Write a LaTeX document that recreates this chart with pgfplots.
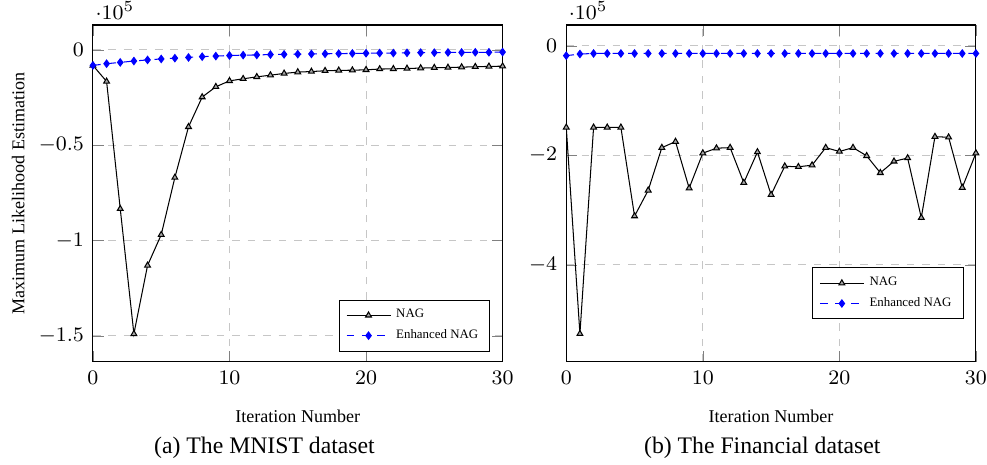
\documentclass[border=0pt]{standalone}
\usepackage{pgfplots}
\pgfplotsset{compat=1.18}
\usepackage{fontspec}
\setmainfont{Liberation Serif}

\pgfplotsset{
  nagplot/.style={
    scale only axis, width=158.9pt, height=130.6pt,
    xmin=0, xmax=30, xtick={0,10,20,30},
    grid=major, grid style={dashed, gray!45},
    tick label style={font=\footnotesize},
    label style={font=\scriptsize},
    xlabel={Iteration Number},
    x label style={at={(axis description cs:0.5,0)}, anchor=center, yshift=-21.2pt},
    every y tick scale label/.style={at={(rel axis cs:0,1)}, anchor=base west, inner sep=0pt, xshift=0.8pt, yshift=2.3pt},
    legend style={font=\tiny, draw=black, fill=white, inner xsep=2.5pt, inner ysep=1.5pt, row sep=-1pt},
    legend cell align=left,
  },
  nag/.style={black, mark=triangle*, mark size=1.3pt, mark options={fill=gray!70, solid}},
  enag/.style={blue, dashed, mark=diamond*, mark size=1.4pt, mark options={solid, fill=blue}},
}

\begin{document}
\begin{tikzpicture}
% (a) MNIST
\begin{axis}[nagplot, name=a,
  ymin=-163600, ymax=13000, ytick={-150000,-100000,-50000,0},
  ylabel={Maximum Likelihood Estimation},
  y label style={at={(axis description cs:-0.1825,0.5)}, anchor=center, rotate=0},
  legend pos=south east]
\addplot[nag] coordinates {
(0,-8200) (1,-16600) (2,-83400) (3,-149000) (4,-113100) (5,-97000)
(6,-67000) (7,-40400) (8,-24800) (9,-19400) (10,-16300) (11,-15200)
(12,-14200) (13,-13300) (14,-12400) (15,-11700) (16,-11400) (17,-11000)
(18,-10800) (19,-10700) (20,-10500) (21,-10100) (22,-10000) (23,-9800)
(24,-9600) (25,-9400) (26,-9300) (27,-9100) (28,-8900) (29,-8700) (30,-8600)};
\addlegendentry{NAG}
\addplot[enag] coordinates {
(0,-8200) (1,-7300) (2,-6600) (3,-5900) (4,-5300) (5,-4800) (6,-4400)
(7,-4000) (8,-3600) (9,-3300) (10,-3000) (11,-2800) (12,-2700) (13,-2500)
(14,-2400) (15,-2300) (16,-2200) (17,-2100) (18,-2000) (19,-1900) (20,-1800)
(21,-1700) (22,-1700) (23,-1600) (24,-1500) (25,-1500) (26,-1400) (27,-1400)
(28,-1300) (29,-1300) (30,-1200)};
\addlegendentry{Enhanced NAG}
\end{axis}
\node[font=\fontsize{9.2}{11}\selectfont] at ([xshift=-12.9pt, yshift=-33.3pt]a.south) {(a) The MNIST dataset};

% (b) Financial
\begin{axis}[nagplot, name=b, at={(183.6pt,0)},
  ymin=-577000, ymax=38000, ytick={-400000,-200000,0},
  legend style={at={(0.97,0.28)}, anchor=north east}]
\addplot[nag] coordinates {
(0,-149000) (1,-526000) (2,-149000) (3,-149000) (4,-149000) (5,-311000)
(6,-264000) (7,-186000) (8,-175000) (9,-260000) (10,-196000) (11,-187000)
(12,-186000) (13,-250000) (14,-194000) (15,-272000) (16,-220000) (17,-221000)
(18,-218000) (19,-186000) (20,-193000) (21,-186000) (22,-201000) (23,-232000)
(24,-211000) (25,-205000) (26,-314000) (27,-166000) (28,-167000) (29,-259000)
(30,-196000)};
\addlegendentry{NAG}
\addplot[enag] coordinates {
(0,-18000) (1,-15000) (2,-14000) (3,-14000) (4,-14000) (5,-14000) (6,-14000)
(7,-14000) (8,-14000) (9,-14000) (10,-14000) (11,-14000) (12,-14000)
(13,-14000) (14,-14000) (15,-14000) (16,-14000) (17,-14000) (18,-14000)
(19,-14000) (20,-14000) (21,-14000) (22,-14000) (23,-14000) (24,-14000)
(25,-14000) (26,-14000) (27,-14000) (28,-14000) (29,-14000) (30,-14000)};
\addlegendentry{Enhanced NAG}
\end{axis}
\node[font=\fontsize{9.2}{11}\selectfont] at ([xshift=-3.4pt, yshift=-33.3pt]b.south) {(b) The Financial dataset};
\pgfresetboundingbox
\path ([xshift=-36.05pt, yshift=-39.9pt]a.south west) rectangle ([xshift=4.3pt, yshift=9.7pt]b.north east);
\end{tikzpicture}
\end{document}
